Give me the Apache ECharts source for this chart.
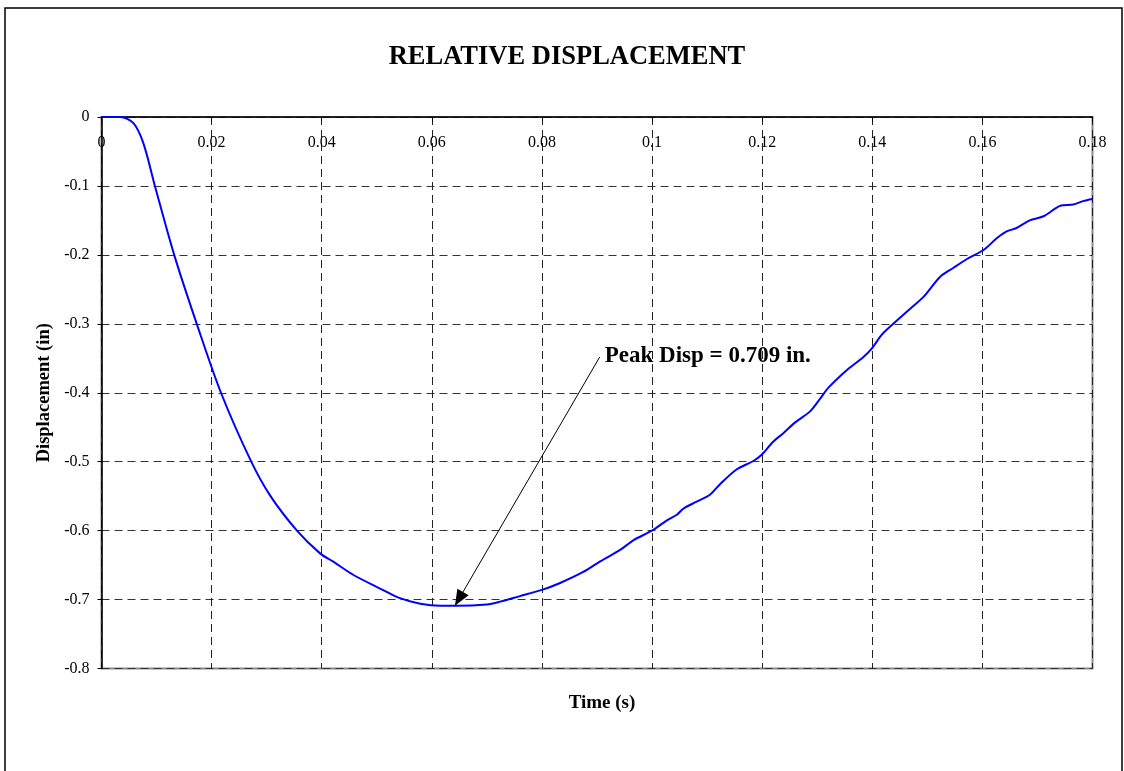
<!DOCTYPE html>
<html>
<head>
<meta charset="utf-8">
<title>Relative Displacement</title>
<script src="https://cdn.jsdelivr.net/npm/echarts@6/dist/echarts.min.js"></script>
<style>
  html, body { margin: 0; padding: 0; background: #fff; }
  #chart { width: 1124px; height: 771px; }
</style>
</head>
<body>
<div id="chart"></div>
<script>
// Time (s) samples of the displacement history
const timeS = [
  0, 0.0020, 0.0034, 0.0058, 0.0076, 0.0097, 0.0132, 0.0173, 0.0217, 0.0272,
  0.0307, 0.0355, 0.0397, 0.0421, 0.0457, 0.0506, 0.0542, 0.0579, 0.0615, 0.0645,
  0.0700, 0.0724, 0.0760, 0.0800, 0.0833, 0.0875, 0.0905, 0.0942, 0.0966, 0.1002,
  0.1027, 0.1045, 0.1057, 0.1081, 0.1105, 0.1123, 0.1154, 0.1184, 0.1199, 0.1220,
  0.1238, 0.1260, 0.1287, 0.1305, 0.1320, 0.1354, 0.1384, 0.1399, 0.1417, 0.1438,
  0.1469, 0.1493, 0.1523, 0.1547, 0.1572, 0.1602, 0.1626, 0.1644, 0.1662, 0.1686,
  0.1711, 0.1741, 0.1765, 0.1783, 0.1800
];
// Relative displacement (in)
const displacementIn = [
  0, 0, 0, -0.009, -0.038, -0.100, -0.200, -0.300, -0.400, -0.500,
  -0.550, -0.600, -0.633, -0.645, -0.664, -0.684, -0.698, -0.706, -0.709, -0.709,
  -0.707, -0.703, -0.695, -0.686, -0.676, -0.660, -0.645, -0.628, -0.614, -0.599,
  -0.585, -0.577, -0.568, -0.558, -0.548, -0.533, -0.511, -0.499, -0.490, -0.471,
  -0.459, -0.443, -0.427, -0.409, -0.393, -0.367, -0.348, -0.336, -0.316, -0.300,
  -0.278, -0.261, -0.232, -0.219, -0.206, -0.193, -0.176, -0.166, -0.161, -0.150,
  -0.144, -0.129, -0.127, -0.122, -0.119
];

// Peak annotation: arrow tail position and the peak point it points to
const peakTime = 0.0642;
const peakDisp = -0.709;
const arrowTail = [0.0905, -0.348];
const peakLabel = 'Peak Disp = 0.709 in.';

// Axis ranges
const xRange = { min: 0, max: 0.18, step: 0.02 };
const yRange = { min: -0.8, max: 0, step: 0.1 };

const serif = '"Liberation Serif", "Times New Roman", Times, serif';
const seriesData = timeS.map((t, i) => [t, displacementIn[i]]);

const chart = echarts.init(document.getElementById('chart'), null, { renderer: 'canvas' });

chart.setOption({
  backgroundColor: '#ffffff',
  animation: false,
  title: [
    {
      text: 'RELATIVE DISPLACEMENT',
      left: 562, top: 39, textAlign: 'center',
      textStyle: { fontFamily: serif, fontWeight: 'bold', fontSize: 26.5, color: '#000' }
    },
    {
      text: 'Time (s)',
      left: 597, top: 689, textAlign: 'center',
      textStyle: { fontFamily: serif, fontWeight: 'bold', fontSize: 19, color: '#000' }
    }
  ],
  grid: {
    left: 101.5, top: 117, right: 31.5, bottom: 102.5,
    show: true, borderColor: '#8a8a8a', borderWidth: 2, backgroundColor: 'transparent'
  },
  xAxis: {
    type: 'value',
    min: xRange.min, max: xRange.max, interval: xRange.step,
    position: 'top',
    axisLine: { onZero: false, lineStyle: { color: '#000', width: 1.5 } },
    axisTick: { show: true, inside: true, length: 5, lineStyle: { color: '#000' } },
    axisLabel: { inside: true, fontFamily: serif, fontSize: 16, color: '#000', margin: 18 },
    splitLine: { show: true, lineStyle: { color: '#222', type: [8, 5], width: 1 } }
  },
  yAxis: {
    type: 'value',
    min: yRange.min, max: yRange.max, interval: yRange.step,
    name: 'Displacement (in)',
    nameLocation: 'middle',
    nameGap: 46,
    nameTextStyle: { fontFamily: serif, fontWeight: 'bold', fontSize: 18.5, color: '#000' },
    axisLine: { show: true, onZero: false, lineStyle: { color: '#000', width: 1.5 } },
    axisTick: { show: true, length: 4, lineStyle: { color: '#000' } },
    axisLabel: { fontFamily: serif, fontSize: 16, color: '#000', margin: 12 },
    splitLine: { show: true, lineStyle: { color: '#333', type: [8, 5], width: 1 } }
  },
  series: [
    {
      type: 'line',
      data: seriesData,
      showSymbol: false,
      smooth: 0.3,
      lineStyle: { color: '#0000ff', width: 2 },
      z: 3,
      markLine: {
        silent: true,
        symbol: ['none', 'triangle'],
        symbolSize: [13, 16],
        symbolOffset: [0, [0, 8]],
        lineStyle: { color: '#000', width: 1, type: 'solid' },
        itemStyle: { color: '#000' },
        label: { show: false },
        data: [[{ coord: arrowTail }, { coord: [peakTime, peakDisp] }]]
      }
    }
  ]
});

// Place the annotation text just right of the arrow tail, via the chart's own scales
const tailPx = chart.convertToPixel({ xAxisIndex: 0, yAxisIndex: 0 }, arrowTail);
chart.setOption({
  graphic: [
    {
      type: 'rect',
      shape: { x: 5, y: 8, width: 1117, height: 800 },
      style: { fill: 'none', stroke: '#000', lineWidth: 1.5 },
      silent: true
    },
    {
      type: 'text',
      x: tailPx[0] + 5,
      y: tailPx[1] - 1,
      style: {
        text: peakLabel,
        fontFamily: serif, fontWeight: 'bold', fontSize: 23,
        fill: '#000', verticalAlign: 'middle', align: 'left'
      }
    }
  ]
});
</script>
</body>
</html>
